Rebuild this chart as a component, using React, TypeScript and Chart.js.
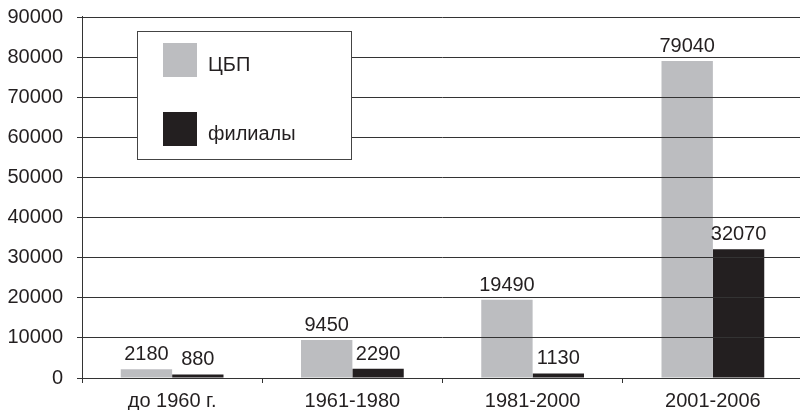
import React, { useEffect, useRef } from "react";
import { Chart, registerables } from "chart.js";

Chart.register(...registerables);

const categories = ["до 1960 г.", "1961-1980", "1981-2000", "2001-2006"];
const seriesNames = ["ЦБП", "филиалы"];
const cbpValues = [2180, 9450, 19490, 79040];
const filialValues = [880, 2290, 1130, 32070];
const yTicks = [0, 10000, 20000, 30000, 40000, 50000, 60000, 70000, 80000, 90000];

const GRAY = "#bcbdc0";
const DARK = "#231f20";
const LINE = "#333333";
const FONT = "'Liberation Sans', Arial, sans-serif";
const FONT_SIZE = 20;

const axisLine = {
  id: "axisLine",
  afterDraw(chart: any) {
    const { ctx, chartArea } = chart;
    ctx.save();
    ctx.strokeStyle = LINE;
    ctx.lineWidth = 1;
    const x = Math.round(chartArea.left) + 0.5;
    ctx.beginPath();
    ctx.moveTo(x, chartArea.top - 1);
    ctx.lineTo(x, chartArea.bottom + 5);
    ctx.stroke();
    ctx.restore();
  },
};

const valueLabels = {
  id: "valueLabels",
  afterDraw(chart: any) {
    const ctx = chart.ctx;
    ctx.save();
    ctx.font = `${FONT_SIZE}px ${FONT}`;
    ctx.fillStyle = DARK;
    ctx.textAlign = "center";
    ctx.textBaseline = "alphabetic";
    chart.data.datasets.forEach((ds: any, i: number) => {
      const meta = chart.getDatasetMeta(i);
      meta.data.forEach((bar: any, j: number) => {
        ctx.fillText(String(ds.data[j]), bar.x, bar.y - 9);
      });
    });
    ctx.restore();
  },
};

const boxLegend = {
  id: "boxLegend",
  afterDraw(chart: any) {
    const ctx = chart.ctx;
    ctx.save();
    const left = 137.5, top = 31.5, w = 214, h = 128;
    ctx.fillStyle = "#ffffff";
    ctx.fillRect(left, top, w, h);
    ctx.strokeStyle = "#444444";
    ctx.lineWidth = 1;
    ctx.strokeRect(left, top, w, h);
    ctx.font = `${FONT_SIZE}px ${FONT}`;
    ctx.textAlign = "left";
    ctx.textBaseline = "alphabetic";
    const rows = [43, 112];
    chart.data.datasets.forEach((ds: any, i: number) => {
      const y = rows[i];
      ctx.fillStyle = ds.backgroundColor;
      ctx.fillRect(163, y, 34, 34);
      ctx.fillStyle = DARK;
      ctx.fillText(ds.label, 208, y + 28);
    });
    ctx.restore();
  },
};

export default function App() {
  const ref = useRef<HTMLCanvasElement | null>(null);
  useEffect(() => {
    if (!ref.current) return;
    Chart.defaults.font.family = FONT;
    const chart = new Chart(ref.current, {
      type: "bar",
      data: {
        labels: categories,
        datasets: [
          {
            label: seriesNames[0],
            data: cbpValues,
            backgroundColor: GRAY,
            categoryPercentage: 0.57,
            barPercentage: 1,
          },
          {
            label: seriesNames[1],
            data: filialValues,
            backgroundColor: DARK,
            categoryPercentage: 0.57,
            barPercentage: 1,
          },
        ],
      },
      options: {
        animation: false,
        responsive: false,
        devicePixelRatio: 1,
        layout: { padding: { top: 17, right: 3, left: 0, bottom: 0 } },
        plugins: {
          legend: { display: false },
          tooltip: { enabled: false },
        },
        scales: {
          x: {
            offset: true,
            grid: {
              offset: true,
              drawOnChartArea: false,
              drawTicks: true,
              tickLength: 5,
              color: LINE,
            },
            border: { color: LINE, width: 1 },
            ticks: {
              color: DARK,
              font: { size: FONT_SIZE, family: FONT },
              padding: 6,
              maxRotation: 0,
            },
            afterFit(scale: any) {
              scale.height = 32;
              scale.paddingLeft = 0;
              scale.paddingRight = 0;
            },
          },
          y: {
            min: 0,
            max: 90000,
            afterBuildTicks(scale: any) {
              scale.ticks = yTicks.map((v) => ({ value: v }));
            },
            grid: {
              color: LINE,
              lineWidth: 1,
              tickLength: 5,
              z: 1,
            },
            border: { display: false },
            ticks: {
              color: DARK,
              font: { size: FONT_SIZE, family: FONT },
              padding: 14,
              callback: (v: any) => String(v),
            },
            afterFit(scale: any) {
              scale.width = 82;
              scale.paddingTop = 0;
              scale.paddingBottom = 0;
            },
          },
        },
      },
      plugins: [valueLabels, axisLine, boxLegend],
    });
    return () => chart.destroy();
  }, []);
  return (
    <div
      style={{
        position: "absolute",
        left: 0,
        top: 0,
        width: 800,
        height: 410,
        overflow: "hidden",
        background: "#ffffff",
      }}
    >
      <canvas ref={ref} width={806} height={410} style={{ display: "block" }} />
    </div>
  );
}
